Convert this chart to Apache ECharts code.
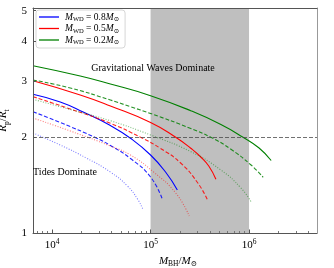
<!DOCTYPE html>
<html><head><meta charset="utf-8">
<script src="https://cdn.jsdelivr.net/npm/echarts@6/dist/echarts.min.js"></script>
<style>html,body{margin:0;padding:0;background:#fff}#c{width:334px;height:268px}</style>
</head><body><div id="c"></div>
<script>
// ---- data ----
const xMajorTicks = [1e4, 1e5, 1e6];
const xMinorTicks = [7e3, 8e3, 9e3, 2e4, 3e4, 4e4, 5e4, 6e4, 7e4, 8e4, 9e4, 2e5, 3e5, 4e5, 5e5, 6e5, 7e5, 8e5, 9e5, 2e6, 3e6, 4e6];
const yTicks = [1, 2, 3, 4, 5];
const gwRegion = [1e5, 1e6];
const thresholdRatio = 2;
const wdMasses = ['0.8', '0.5', '0.2'];

// M_WD = 0.8 (blue)
const m08Solid  = [6400, 12100, 20700, 39100, 62500, 100000, 142000, 187000];
const r08Solid  = [2.731, 2.582, 2.401, 2.178, 1.986, 1.759, 1.555, 1.365];
const m08Dashed = [6400, 12100, 28100, 39100, 62500, 100000, 132600];
const r08Dashed = [2.406, 2.226, 1.990, 1.884, 1.715, 1.500, 1.270];
const m08Dotted = [6400, 12100, 22200, 39100, 58300, 73700, 84200];
const r08Dotted = [2.063, 1.891, 1.722, 1.555, 1.405, 1.279, 1.181];
// M_WD = 0.5 (red)
const m05Solid  = [6400, 19300, 39100, 100000, 180000, 256000, 324000, 390000, 461000];
const r05Solid  = [3.01, 2.716, 2.508, 2.226, 2.00, 1.847, 1.734, 1.624, 1.475];
const m05Dashed = [6400, 15300, 39100, 79100, 126500, 202000, 302000, 379000];
const r05Dashed = [2.683, 2.455, 2.213, 2.00, 1.844, 1.660, 1.436, 1.270];
const m05Dotted = [6400, 15300, 39100, 62500, 107300, 180000, 247000];
const r05Dotted = [2.299, 2.093, 1.877, 1.759, 1.555, 1.336, 1.131];
// M_WD = 0.2 (green)
const m02Solid  = [6400, 19300, 39100, 100000, 256000, 518000, 869000, 1265000, 1677000];
const r02Solid  = [3.358, 3.117, 2.942, 2.703, 2.424, 2.194, 2.00, 1.85, 1.69];
const m02Dashed = [6400, 15300, 39100, 62500, 100000, 256000, 409000, 655000, 1048000, 1390000];
const r02Dashed = [3.028, 2.858, 2.620, 2.495, 2.376, 2.132, 2.00, 1.834, 1.636, 1.497];
const m02Dotted = [6400, 15300, 39100, 100000, 256000, 518000, 829000, 1048000];
const r02Dotted = [2.633, 2.446, 2.255, 2.033, 1.802, 1.578, 1.385, 1.254];

// ---- build ----
const SERIF = '"Liberation Serif","DejaVu Serif",serif';
const zip = (a, b) => a.map((v, i) => [v, b[i]]);
const curves = [
  {name: 'M0.8', color: '#0000ff', sets: [[m08Solid, r08Solid], [m08Dashed, r08Dashed], [m08Dotted, r08Dotted]]},
  {name: 'M0.5', color: '#ff0000', sets: [[m05Solid, r05Solid], [m05Dashed, r05Dashed], [m05Dotted, r05Dotted]]},
  {name: 'M0.2', color: '#008000', sets: [[m02Solid, r02Solid], [m02Dashed, r02Dashed], [m02Dotted, r02Dotted]]}
];
const styles = [
  {type: 'solid', opacity: 1},
  {type: [4, 2], opacity: 0.85},
  {type: [1, 1.6], opacity: 0.5}
];
const series = [{
  type: 'line', data: [], z: 1, silent: true,
  markArea: {silent: true, itemStyle: {color: '#bfbfbf'}, data: [[{xAxis: gwRegion[0]}, {xAxis: gwRegion[1]}]]},
  markLine: {silent: true, symbol: 'none', label: {show: false},
    lineStyle: {color: '#444', type: [4, 2], width: 0.9, opacity: 0.85},
    data: [{yAxis: thresholdRatio}]}
}];
curves.forEach(c => {
  c.sets.forEach((s, k) => {
    series.push({
      type: 'line', name: k === 0 ? c.name : c.name + '_' + k,
      data: zip(s[0], s[1]), showSymbol: false, symbol: 'none',
      smooth: 0.5, z: 3,
      color: c.color,
      lineStyle: {color: c.color, width: 1.1, type: styles[k].type, opacity: styles[k].opacity}
    });
  });
});

const richBase = {
  i: {fontFamily: SERIF, fontStyle: 'italic', fontSize: 9.5, color: '#000', lineHeight: 12},
  n: {fontFamily: SERIF, fontSize: 9.5, color: '#000', lineHeight: 12},
  s: {fontFamily: SERIF, fontSize: 6.5, color: '#000', lineHeight: 7, verticalAlign: 'bottom'}
};
const axisRich = {
  i: {fontFamily: SERIF, fontStyle: 'italic', fontSize: 11, color: '#000', lineHeight: 14},
  n: {fontFamily: SERIF, fontSize: 11, color: '#000', lineHeight: 14},
  s: {fontFamily: SERIF, fontSize: 7.5, color: '#000', lineHeight: 8, verticalAlign: 'bottom'}
};

const chart = echarts.init(document.getElementById('c'), null, {renderer: 'canvas'});
chart.setOption({
  animation: false,
  backgroundColor: '#fff',
  grid: {left: 33, right: 17, top: 8, bottom: 35, outerBoundsMode: 'none', containLabel: false},
  legend: {
    orient: 'vertical', left: 36, top: 10,
    data: curves.map(c => c.name),
    icon: 'rect',
    itemWidth: 20, itemHeight: 1.3, itemGap: 0.5,
    padding: [2, 6, 2, 3],
    backgroundColor: '#fff', borderColor: '#cccccc', borderWidth: 0.8, borderRadius: 3,
    formatter: name => '{i|M}{s|WD}{n| = ' + wdMasses[curves.findIndex(c => c.name === name)] + '}{i|M}{s|⊙}',
    textStyle: {rich: richBase, padding: [0, 0, 0, 1]}
  },
  xAxis: [{
    type: 'log', logBase: 10, min: 6400, max: 4.9e6, z: 10,
    axisLine: {lineStyle: {color: '#555', width: 1}},
    splitLine: {show: false},
    axisTick: {inside: true, length: 3.5, customValues: xMajorTicks, lineStyle: {color: '#555'}},
    axisLabel: {customValues: xMajorTicks, margin: 5,
      formatter: v => '{b|10}{p|' + Math.round(Math.log10(v)) + '}',
      rich: {b: {fontFamily: SERIF, fontSize: 11, color: '#000', lineHeight: 14},
             p: {fontFamily: SERIF, fontSize: 7.5, color: '#000', lineHeight: 8, verticalAlign: 'top'}}},
    name: '{i|M}{s|BH}{n|/}{i|M}{s|⊙}', nameLocation: 'middle', nameGap: 20,
    nameTextStyle: {rich: axisRich, padding: [0, 0, 0, 6]}
  }, {
    type: 'log', logBase: 10, min: 6400, max: 4.9e6, position: 'top', z: 10,
    axisLine: {lineStyle: {color: '#555', width: 1}},
    axisTick: {show: false}, axisLabel: {show: false}, splitLine: {show: false}
  }, {
    type: 'log', logBase: 10, min: 6400, max: 4.9e6, position: 'bottom', z: 10,
    axisLine: {show: false}, splitLine: {show: false}, axisLabel: {show: false},
    axisTick: {inside: true, length: 2, customValues: xMinorTicks, lineStyle: {color: '#777'}}
  }],
  yAxis: [{
    type: 'log', logBase: 10, min: 1, max: 5.1, z: 10,
    axisLine: {show: true, lineStyle: {color: '#555', width: 1}},
    splitLine: {show: false},
    axisTick: {show: true, inside: true, length: 3, customValues: yTicks, lineStyle: {color: '#555'}},
    axisLabel: {customValues: yTicks, margin: 6, fontFamily: SERIF, fontSize: 11, color: '#000'},
    name: '{i|R}{s|p}{n|/}{i|R}{s|t}', nameLocation: 'middle', nameGap: 11, nameRotate: 90,
    nameTextStyle: {rich: axisRich}
  }, {
    type: 'log', logBase: 10, min: 1, max: 5.1, position: 'right', z: 10,
    axisLine: {show: true, lineStyle: {color: '#999', width: 1}},
    axisTick: {show: false}, axisLabel: {show: false}, splitLine: {show: false}
  }],
  graphic: [
    {type: 'text', x: 153, y: 68, z: 20, style: {text: 'Gravitational Waves Dominate', font: '10px ' + SERIF, fill: '#000', align: 'center', verticalAlign: 'middle'}},
    {type: 'text', x: 65, y: 172, z: 20, style: {text: 'Tides Dominate', font: '10px ' + SERIF, fill: '#000', align: 'center', verticalAlign: 'middle'}}
  ],
  series: series
});
</script>
</body></html>
